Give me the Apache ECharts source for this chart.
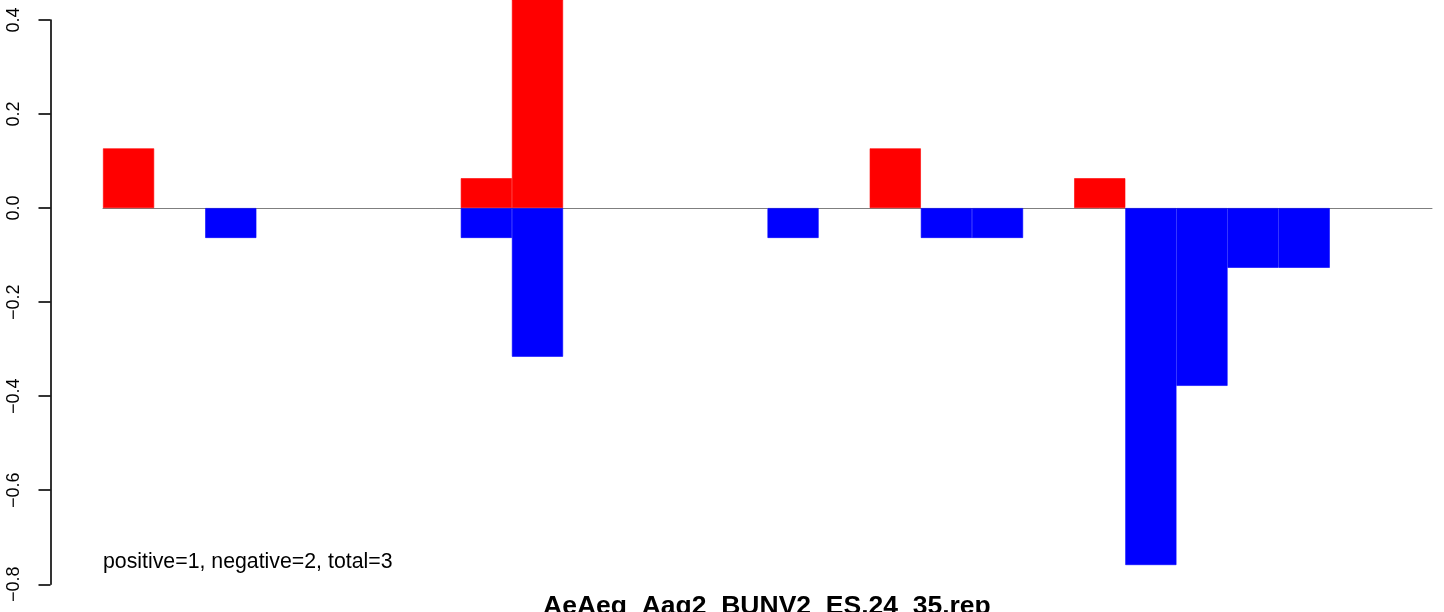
<!DOCTYPE html>
<html>
<head>
<meta charset="utf-8">
<script src="https://cdn.jsdelivr.net/npm/echarts@6/dist/echarts.min.js"></script>
<style>
  html, body { margin: 0; padding: 0; background: #fff; }
  #chart { width: 1444px; height: 612px; }
</style>
</head>
<body>
<div id="chart"></div>
<script>
// 26 positions, no gaps between bars
var positions = [];
for (var i = 0; i < 26; i++) { positions.push(String(i + 1)); }

var positiveValues = [0.127, 0, 0, 0, 0, 0, 0, 0.0635, 0.5, 0, 0, 0, 0,
                      0, 0, 0.127, 0, 0, 0, 0.0635, 0, 0, 0, 0, 0, 0];
var negativeValues = [0, 0, -0.0635, 0, 0, 0, 0, -0.0635, -0.316, 0, 0, 0, 0,
                      -0.0635, 0, 0, -0.0635, -0.0635, 0, 0, -0.759, -0.378, -0.127, -0.127, 0, 0];

var yTicks = [-0.8, -0.6, -0.4, -0.2, 0.0, 0.2, 0.4];
var plotTitle = 'AeAeg_Aag2_BUNV2_ES.24_35.rep';
var countsText = 'positive=1, negative=2, total=3';

// empty slots stay empty (no zero-height bar outline)
function skipZero(list) {
    return list.map(function (v) { return v === 0 ? '-' : v; });
}

var myChart = echarts.init(document.getElementById('chart'));

var option = {
    backgroundColor: '#ffffff',
    animation: false,
    title: [{
        text: plotTitle,
        left: 543,
        top: 593,
        padding: 0,
        textStyle: { fontFamily: 'Liberation Sans', fontWeight: 'bold', fontSize: 26.5, color: '#000' }
    }, {
        text: countsText,
        left: 103,
        top: 552,
        padding: 0,
        textStyle: { fontFamily: 'Liberation Sans', fontWeight: 'normal', fontSize: 21.3, color: '#000' }
    }],
    grid: [
        // bars
        { left: 103, top: 0, width: 1329, height: 584.3, containLabel: false },
        // left axis only
        { left: 50.5, top: 20, width: 10, height: 564.3, containLabel: false }
    ],
    xAxis: [{
        gridIndex: 0,
        type: 'category',
        data: positions,
        boundaryGap: true,
        axisLine: { show: true, onZero: true, lineStyle: { color: '#7f7f7f', width: 1 } },
        axisTick: { show: false },
        axisLabel: { show: false },
        splitLine: { show: false }
    }, {
        gridIndex: 1,
        type: 'value',
        show: false
    }],
    yAxis: [{
        gridIndex: 0,
        type: 'value',
        min: -0.8,
        max: 0.4425,
        show: false,
        splitLine: { show: false }
    }, {
        gridIndex: 1,
        type: 'value',
        min: yTicks[0],
        max: yTicks[yTicks.length - 1],
        interval: 0.2,
        axisLine: { show: true, lineStyle: { color: '#000', width: 1.6 } },
        axisTick: { show: true, inside: false, length: 12, lineStyle: { color: '#000', width: 1.6 } },
        splitLine: { show: false },
        axisLabel: {
            rotate: 90,
            margin: 27,
            fontFamily: 'Liberation Sans',
            fontSize: 18,
            color: '#000',
            formatter: function (v) {
                return v.toFixed(1).replace('-', '\u2212');
            }
        }
    }],
    series: [{
        name: 'positive',
        type: 'bar',
        xAxisIndex: 0,
        yAxisIndex: 0,
        data: skipZero(positiveValues),
        barWidth: '100%',
        barGap: '-100%',
        clip: true,
        itemStyle: { color: '#ff0000', borderColor: '#ff0000', borderWidth: 0.6 }
    }, {
        name: 'negative',
        type: 'bar',
        xAxisIndex: 0,
        yAxisIndex: 0,
        data: skipZero(negativeValues),
        barWidth: '100%',
        barGap: '-100%',
        clip: true,
        itemStyle: { color: '#0000ff', borderColor: '#0000ff', borderWidth: 0.6 }
    }]
};

myChart.setOption(option);
</script>
</body>
</html>
